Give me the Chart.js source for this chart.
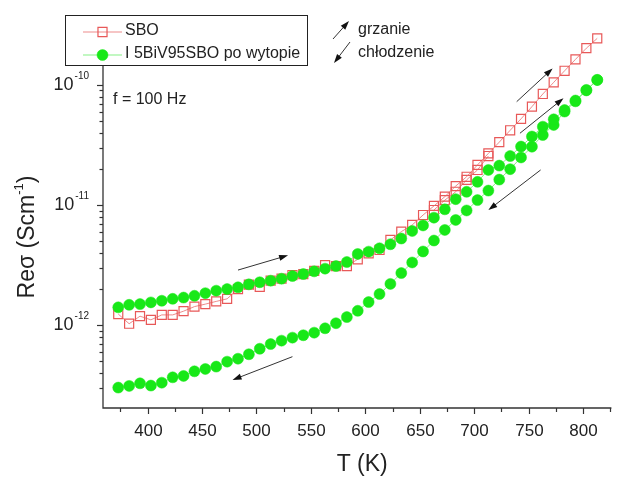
<!DOCTYPE html>
<html>
<head>
<meta charset="utf-8">
<script src="https://cdn.jsdelivr.net/npm/chart.js@4"></script>
<style>
  body { margin: 0; background: #fff; }
  canvas { display: block; }
</style>
</head>
<body>
<canvas id="chart" width="619" height="477"></canvas>
<script>
// temperature steps (K)
var temps = [373, 383, 393, 403, 413, 423, 433, 443, 453, 463, 473, 483, 493, 503, 513,
             523, 533, 543, 553, 563, 573, 583, 593, 603, 613, 623, 633, 643, 653, 663,
             673, 683, 693, 703, 713, 723, 733, 743, 753, 763, 773, 783, 793, 803, 813];

// SBO, grzanie
var sboHeating = [1.24e-12, 1.03e-12, 1.19e-12, 1.11e-12, 1.22e-12, 1.22e-12, 1.31e-12, 1.43e-12, 1.50e-12, 1.58e-12,
                  1.66e-12, 2.00e-12, 2.18e-12, 2.09e-12, 2.35e-12, 2.44e-12, 2.62e-12, 2.67e-12, 2.83e-12, 3.16e-12,
                  3.11e-12, 3.11e-12, 3.54e-12, 3.97e-12, 4.23e-12, 5.13e-12, 6.01e-12, 6.83e-12, 8.27e-12, 9.84e-12,
                  1.175e-11, 1.44e-11, 1.72e-11, 2.16e-11, 2.69e-11, 3.34e-11, 4.19e-11, 5.22e-11, 6.59e-11, 8.40e-11,
                  1.05e-10, 1.31e-10, 1.63e-10, 2.02e-10, 2.44e-10];

// SBO, chlodzenie (only the visibly separate points)
var sboCoolingT = [713, 703, 693, 683, 673, 663];
var sboCooling = [2.56e-11, 1.96e-11, 1.62e-11, 1.29e-11, 1.10e-11, 9.10e-12];

// 5BiV95SBO, grzanie
var bivHeating = [1.41e-12, 1.48e-12, 1.50e-12, 1.55e-12, 1.60e-12, 1.66e-12, 1.70e-12, 1.76e-12, 1.85e-12, 1.94e-12,
                  2.00e-12, 2.07e-12, 2.19e-12, 2.28e-12, 2.35e-12, 2.44e-12, 2.57e-12, 2.67e-12, 2.81e-12, 2.96e-12,
                  3.11e-12, 3.36e-12, 3.92e-12, 4.10e-12, 4.37e-12, 4.72e-12, 5.27e-12, 6.09e-12, 6.77e-12, 7.86e-12,
                  9.22e-12, 1.12e-11, 1.29e-11, 1.56e-11, 1.96e-11, 2.13e-11, 2.56e-11, 3.07e-11, 3.72e-11, 4.49e-11,
                  5.17e-11, 6.18e-11, 7.41e-11, 9.08e-11, 1.10e-10];

// 5BiV95SBO, chlodzenie
var bivCooling = [3.03e-13, 3.13e-13, 3.29e-13, 3.15e-13, 3.33e-13, 3.69e-13, 3.79e-13, 4.14e-13, 4.33e-13, 4.53e-13,
                  4.98e-13, 5.27e-13, 5.74e-13, 6.38e-13, 6.98e-13, 7.45e-13, 7.89e-13, 8.26e-13, 8.68e-13, 9.44e-13,
                  1.04e-12, 1.17e-12, 1.32e-12, 1.56e-12, 1.82e-12, 2.21e-12, 2.72e-12, 3.33e-12, 4.11e-12, 5.07e-12,
                  6.21e-12, 7.52e-12, 9.02e-12, 1.10e-11, 1.32e-11, 1.63e-11, 1.99e-11, 2.49e-11, 3.06e-11, 3.83e-11,
                  4.64e-11, 6.00e-11, 7.30e-11, 9.00e-11, 1.10e-10];

var xMajorTicks = [400, 450, 500, 550, 600, 650, 700, 750, 800];
var xMinorTicks = [375, 425, 475, 525, 575, 625, 675, 725, 775, 825];
var yDecades = [-13, -12, -11, -10];
var yLabelExps = [-12, -11, -10];

// arrows [T1, v1, T2, v2], head at the second point
var arrows = [
    [483, 2.88e-12, 529, 3.82e-12],
    [533, 5.48e-13, 478, 3.51e-13],
    [761, 1.96e-11, 713, 9.10e-12],
    [739, 7.25e-11, 772, 1.37e-10],
    [742, 3.96e-11, 782, 7.74e-11]
];

var FONT = "'Liberation Sans', Arial, sans-serif";
var RED = 'rgb(232,88,88)';
var GREEN = 'rgb(24,232,24)';

function pts(xs, ys) {
    var out = [];
    for (var i = 0; i < xs.length; i++) out.push({x: xs[i], y: ys[i]});
    return out;
}

function arrow(ctx, x1, y1, x2, y2) {
    var a = Math.atan2(y2 - y1, x2 - x1);
    ctx.beginPath();
    ctx.moveTo(x1, y1);
    ctx.lineTo(x2 - 6 * Math.cos(a), y2 - 6 * Math.sin(a));
    ctx.stroke();
    ctx.beginPath();
    ctx.moveTo(x2, y2);
    ctx.lineTo(x2 - 9 * Math.cos(a) + 3 * Math.sin(a), y2 - 9 * Math.sin(a) - 3 * Math.cos(a));
    ctx.lineTo(x2 - 9 * Math.cos(a) - 3 * Math.sin(a), y2 - 9 * Math.sin(a) + 3 * Math.cos(a));
    ctx.closePath();
    ctx.fill();
}

var decorations = {
    id: 'decorations',
    afterDraw: function (chart) {
        var ctx = chart.ctx;
        var area = chart.chartArea;
        var xs = chart.scales.x, ys = chart.scales.y;
        ctx.save();
        ctx.strokeStyle = '#333';
        ctx.fillStyle = '#222';
        ctx.lineWidth = 1.3;

        // axes lines
        ctx.beginPath();
        ctx.moveTo(area.left, area.top);
        ctx.lineTo(area.left, area.bottom);
        ctx.lineTo(area.right, area.bottom);
        ctx.stroke();

        // x ticks
        ctx.lineWidth = 1.2;
        ctx.font = '17px ' + FONT;
        ctx.textAlign = 'center';
        ctx.textBaseline = 'middle';
        xMajorTicks.forEach(function (t) {
            var px = Math.round(xs.getPixelForValue(t)) + 0.5;
            ctx.beginPath();
            ctx.moveTo(px, area.bottom);
            ctx.lineTo(px, area.bottom + 6);
            ctx.stroke();
            ctx.fillText(String(t), px, area.bottom + 23);
        });
        xMinorTicks.forEach(function (t) {
            var px = Math.round(xs.getPixelForValue(t)) + 0.5;
            ctx.beginPath();
            ctx.moveTo(px, area.bottom);
            ctx.lineTo(px, area.bottom + 4);
            ctx.stroke();
        });

        // y ticks
        yDecades.forEach(function (e) {
            for (var k = 1; k < 10; k++) {
                var v = k * Math.pow(10, e);
                var py = ys.getPixelForValue(v);
                if (py < area.top || py > area.bottom) continue;
                py = Math.round(py) + 0.5;
                ctx.beginPath();
                ctx.moveTo(area.left, py);
                ctx.lineTo(area.left - (k === 1 ? 6 : 3.5), py);
                ctx.stroke();
            }
        });
        yLabelExps.forEach(function (e) {
            var py = ys.getPixelForValue(Math.pow(10, e));
            var sup = '-' + String(-e);
            ctx.font = '10px ' + FONT;
            var sw = ctx.measureText(sup).width;
            ctx.textAlign = 'right';
            ctx.fillText(sup, area.left - 14, py - 9);
            ctx.font = '18px ' + FONT;
            ctx.fillText('10', area.left - 15 - sw, py);
        });

        // axis titles
        ctx.font = '23px ' + FONT;
        ctx.textAlign = 'center';
        ctx.fillText('T (K)', (area.left + area.right) / 2 + 5, 465);

        ctx.save();
        ctx.translate(28, 237);
        ctx.rotate(-Math.PI / 2);
        var main1 = 'Re\u03c3 (Scm', sup1 = '-1', end1 = ')';
        ctx.font = '23px ' + FONT;
        var w1 = ctx.measureText(main1).width, w3 = ctx.measureText(end1).width;
        ctx.font = '13px ' + FONT;
        var w2 = ctx.measureText(sup1).width;
        var x0 = -(w1 + w2 + w3) / 2;
        ctx.textAlign = 'left';
        ctx.font = '23px ' + FONT;
        ctx.fillText(main1, x0, 0);
        ctx.fillText(end1, x0 + w1 + w2, 0);
        ctx.font = '13px ' + FONT;
        ctx.fillText(sup1, x0 + w1, -9);
        ctx.restore();

        // f = 100 Hz
        ctx.font = '16px ' + FONT;
        ctx.textAlign = 'left';
        ctx.fillText('f = 100 Hz', 113, 100);

        // arrows in data space
        ctx.lineWidth = 1;
        ctx.strokeStyle = '#333';
        ctx.fillStyle = '#111';
        arrows.forEach(function (a) {
            arrow(ctx, xs.getPixelForValue(a[0]), ys.getPixelForValue(a[1]),
                  xs.getPixelForValue(a[2]), ys.getPixelForValue(a[3]));
        });

        // key for arrows
        arrow(ctx, 333, 39, 349, 21);
        arrow(ctx, 350, 42, 334, 63);
        ctx.fillStyle = '#222';
        ctx.font = '16px ' + FONT;
        ctx.fillText('grzanie', 358, 30);
        ctx.fillText('ch\u0142odzenie', 358, 53);

        // legend box
        ctx.fillStyle = '#fff';
        ctx.fillRect(65.5, 15.5, 242, 50);
        ctx.strokeStyle = '#222';
        ctx.lineWidth = 1;
        ctx.strokeRect(65.5, 15.5, 242, 50);

        var entries = [
            {label: 'SBO', y: 32, ds: chart.data.datasets[2]},
            {label: 'I 5BiV95SBO po wytopie', y: 55, ds: chart.data.datasets[0]}
        ];
        entries.forEach(function (en) {
            ctx.strokeStyle = en.ds.borderColor;
            ctx.lineWidth = 1;
            ctx.beginPath();
            ctx.moveTo(83, en.y);
            ctx.lineTo(122, en.y);
            ctx.stroke();
            ctx.fillStyle = en.ds.pointBackgroundColor;
            ctx.strokeStyle = en.ds.pointBorderColor;
            ctx.lineWidth = en.ds.pointBorderWidth;
            Chart.helpers.drawPoint(ctx, {
                pointStyle: en.ds.pointStyle,
                radius: en.ds.pointRadius,
                borderWidth: en.ds.pointBorderWidth,
                rotation: 0
            }, 102.5, en.y);
            ctx.fillStyle = '#222';
            ctx.font = '16px ' + FONT;
            ctx.textAlign = 'left';
            ctx.fillText(en.label, 125, en.y - 1);
        });
        ctx.restore();
    }
};

var greenStyle = {
    showLine: true,
    borderColor: 'rgba(120,238,120,0.9)',
    borderWidth: 1,
    pointStyle: 'circle',
    pointRadius: 5.5,
    pointBackgroundColor: GREEN,
    pointBorderColor: GREEN,
    pointBorderWidth: 0.5,
    order: 1
};
var redStyle = {
    showLine: true,
    borderColor: 'rgba(232,110,110,0.8)',
    borderWidth: 1,
    pointStyle: 'rect',
    pointRadius: 6.4,
    pointBackgroundColor: 'rgba(255,255,255,0)',
    pointBorderColor: RED,
    pointBorderWidth: 1.2,
    order: 2
};

var datasets = [
    Object.assign({label: 'I 5BiV95SBO po wytopie', data: pts(temps, bivHeating)}, greenStyle),
    Object.assign({label: 'I 5BiV95SBO chlodzenie', data: pts(temps, bivCooling)}, greenStyle),
    Object.assign({label: 'SBO', data: pts(temps, sboHeating)}, redStyle),
    Object.assign({label: 'SBO chlodzenie', data: pts(sboCoolingT, sboCooling)}, redStyle)
];

new Chart(document.getElementById('chart'), {
    type: 'scatter',
    data: {datasets: datasets},
    options: {
        responsive: false,
        animation: false,
        layout: {padding: {left: 103, right: 0, top: 25, bottom: 69}},
        plugins: {legend: {display: false}, tooltip: {enabled: false}},
        scales: {
            x: {type: 'linear', min: 359, max: 826, display: false},
            y: {type: 'logarithmic', min: 2.05e-13, max: 3.15e-10, display: false}
        }
    },
    plugins: [decorations]
});
</script>
</body>
</html>
